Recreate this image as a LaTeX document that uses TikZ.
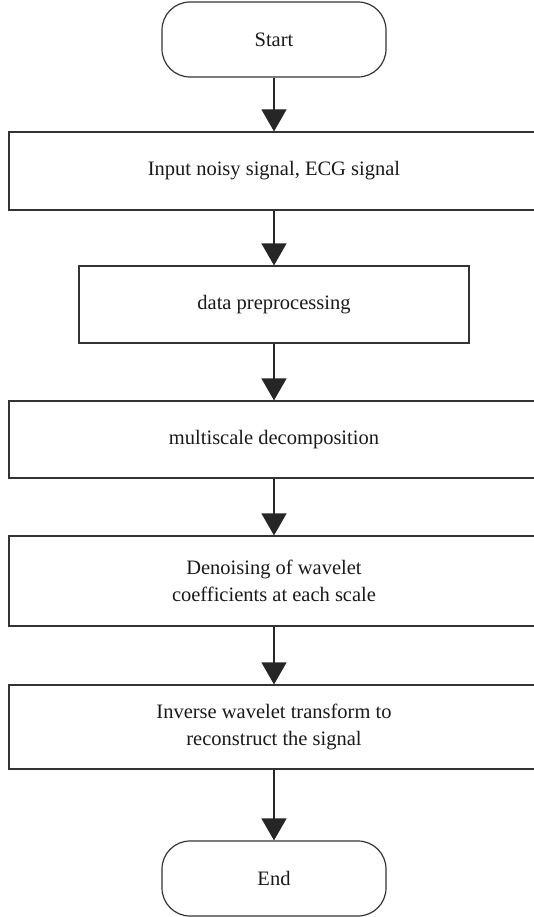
\documentclass[tikz,border=0pt]{standalone}
\usepackage{fontspec}
\setmainfont{Liberation Serif}
\usetikzlibrary{positioning, arrows.meta}

\begin{document}
\begin{tikzpicture}[
  x=1pt, y=-1pt,
  every node/.style={font=\fontsize{20.5}{27}\selectfont, align=center, text=black!90},
  term/.style={rectangle, draw=black!80, line width=1.2pt, rounded corners=28pt, minimum width=224pt, minimum height=75pt},
  proc/.style={rectangle, draw=black!80, line width=1.2pt, minimum width=530pt, minimum height=78pt},
  flow/.style={->, draw=black!85, line width=1.2pt},
  >={Triangle[length=22pt, width=25pt]}
]
\useasboundingbox (0,0) rectangle (533,917);

% Ablauf von oben nach unten
\node[term] (start) at (274,39.5) {Start};
\node[proc] (input) at (274,171) {Input noisy signal, ECG signal};
\node[proc, minimum width=390pt, minimum height=77pt] (prep) at (274,304.5) {data preprocessing};
\node[proc, minimum height=77pt] (decomp) at (274,439.5) {multiscale decomposition};
\node[proc, minimum height=90pt] (denoise) at (274,581) {Denoising of wavelet\\coefficients at each scale};
\node[proc, minimum height=84pt] (inverse) at (274,727) {Inverse wavelet transform to\\reconstruct the signal};
\node[term] (end) at (274,878.5) {End};

% Pfeile
\draw[flow] (start) -- (input);
\draw[flow] (input) -- (prep);
\draw[flow] (prep) -- (decomp);
\draw[flow] (decomp) -- (denoise);
\draw[flow] (denoise) -- (inverse);
\draw[flow] (inverse) -- (end);

\end{tikzpicture}
\end{document}
